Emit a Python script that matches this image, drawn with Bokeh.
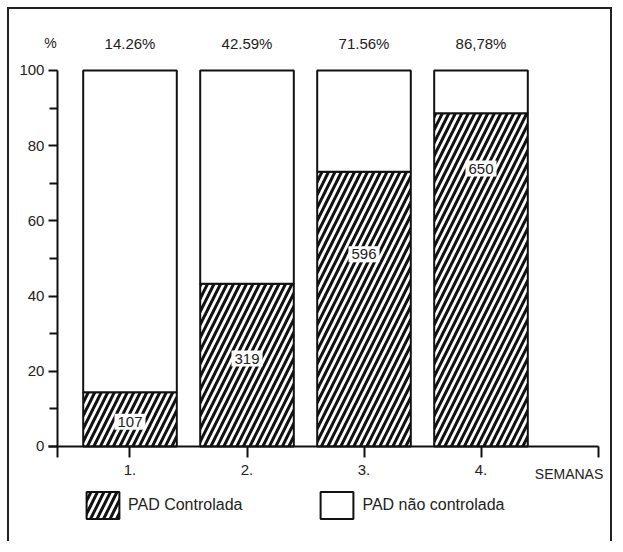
from bokeh.plotting import figure
from bokeh.models import (ColumnDataSource, FixedTicker, Label, Legend,
                          LegendItem, Range1d)
from bokeh.core.properties import value
from bokeh.embed import file_html
from bokeh.resources import INLINE

# ---- data ----
weeks = [1, 2, 3, 4]
week_labels = ["1.", "2.", "3.", "4."]
controlled = [14.4, 43.3, 73.1, 88.6]          # hatched height (%)
uncontrolled_top = [100, 100, 100, 100]
pct_labels = ["14.26%", "42.59%", "71.56%", "86,78%"]
counts = ["107", "319", "596", "650"]
count_y = [6.6, 23.4, 51.1, 73.9]
pct_y = [107.2, 107.2, 107.2, 107.2]

FONT = "Liberation Sans"
TXT = "#222222"
INK = "#111111"

src = ColumnDataSource(dict(x=weeks, ctrl=controlled, top=uncontrolled_top,
                            pct=pct_labels, cnt=counts, cy=count_y, py=pct_y))

p = figure(width=605, height=534, output_backend="svg", toolbar_location=None,
           x_range=Range1d(-0.0299, 5.141), y_range=Range1d(-25.80, 116.22),
           min_border=0)
p.styles = {"border-left": "2px solid #222", "border-top": "2px solid #222",
            "border-right": "2px solid #222", "margin-left": "7px",
            "margin-top": "7px"}
p.outline_line_color = None
p.xgrid.visible = False
p.ygrid.visible = False
p.background_fill_color = "white"

ctrl_r = p.vbar(x="x", width=0.80, bottom=0, top="ctrl", source=src,
                fill_color="white", hatch_pattern="/", hatch_color=INK,
                hatch_weight=3, hatch_scale=13, line_color=INK, line_width=2)
unc_r = p.vbar(x="x", width=0.80, bottom="ctrl", top="top", source=src,
               fill_color="white", line_color=INK, line_width=2)

# axes (placed at fixed data positions inside the frame)
xa = p.xaxis[0]
xa.fixed_location = 0
xa.ticker = FixedTicker(ticks=[0.38] + weeks + [5.0], minor_ticks=[])
xa.major_label_overrides = {0.38: "", 5.0: "", 1: week_labels[0], 2: week_labels[1],
                            3: week_labels[2], 4: week_labels[3]}
xa.bounds = (0.30, 5.0)
xa.axis_line_color = INK
xa.axis_line_width = 2
xa.major_tick_line_color = INK
xa.major_tick_line_width = 2
xa.major_tick_out = 11
xa.major_tick_in = 0
xa.major_label_standoff = 8
xa.major_label_text_font = FONT
xa.major_label_text_font_size = "15px"
xa.major_label_text_color = TXT

ya = p.yaxis[0]
ya.fixed_location = 0.38
ya.ticker = FixedTicker(ticks=[0, 20, 40, 60, 80, 100], minor_ticks=[10, 30, 50, 70, 90])
ya.bounds = (0, 100)
ya.axis_line_color = INK
ya.axis_line_width = 2
ya.major_tick_line_color = INK
ya.major_tick_line_width = 2
ya.major_tick_out = 9
ya.major_tick_in = 0
ya.minor_tick_line_color = INK
ya.minor_tick_line_width = 2
ya.minor_tick_out = 8
ya.minor_tick_in = 0
ya.major_label_standoff = 4
ya.major_label_text_font = FONT
ya.major_label_text_font_size = "15px"
ya.major_label_text_color = TXT

# top percentages
p.text(x="x", y="py", text="pct", source=src, text_align="center",
       text_baseline="middle", text_font=value(FONT), text_font_size="15px",
       text_color=TXT)

# counts in bars (white boxes)
p.text(x="x", y="cy", text="cnt", source=src, text_align="center",
       text_baseline="middle", text_font=value(FONT), text_font_size="15px",
       text_color=TXT, background_fill_color="white", padding=3)

p.add_layout(Label(x=0.32, y=107.2, text="%", text_align="center",
                   text_baseline="middle", text_font=FONT, text_font_size="14px",
                   text_color=TXT))
p.add_layout(Label(x=4.46, y=-7.4, text="SEMANAS", text_align="left",
                   text_baseline="middle", text_font=FONT, text_font_size="14px",
                   text_color=TXT))

legend = Legend(items=[LegendItem(label="PAD Controlada", renderers=[ctrl_r]),
                       LegendItem(label="PAD não controlada", renderers=[unc_r])],
                location=(73, 21), orientation="horizontal",
                glyph_width=41, glyph_height=34, label_standoff=5, spacing=74,
                padding=0, margin=0, border_line_color=None,
                background_fill_alpha=0, label_text_font=FONT,
                label_text_font_size="16px", label_text_color=TXT)
p.add_layout(legend, "center")

open("out.html", "w").write(file_html(p, INLINE))
